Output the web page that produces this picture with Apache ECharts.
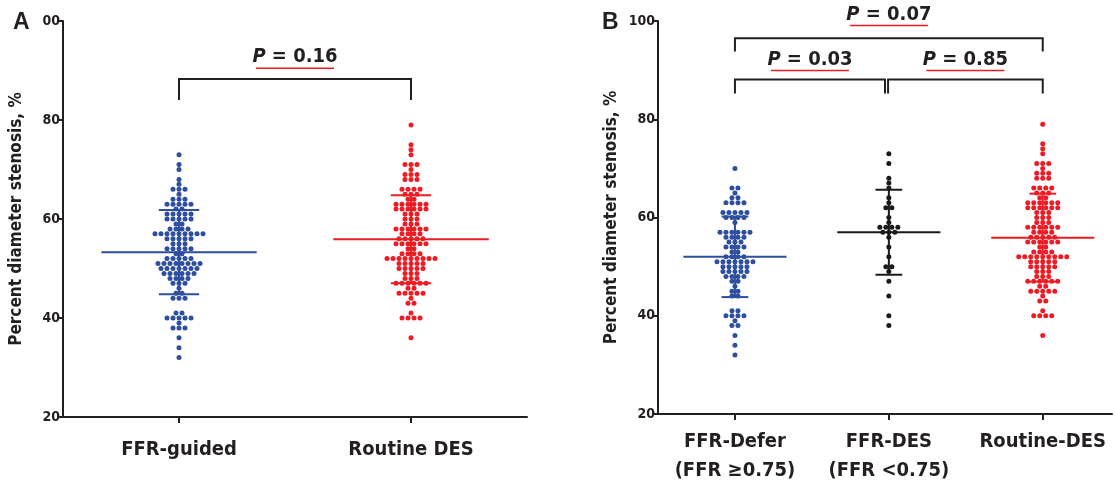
<!DOCTYPE html>
<html>
<head>
<meta charset="utf-8">
<title>Percent diameter stenosis</title>
<script src="https://cdn.jsdelivr.net/npm/echarts@6/dist/echarts.min.js"></script>
<style>
  html, body { margin: 0; padding: 0; background: #fff; }
  #chart { width: 1114px; height: 485px; }
</style>
</head>
<body>
<div id="chart"></div>
<script>
const FONT = "'Liberation Sans Narrow', 'DejaVu Sans Condensed', 'Arial Narrow', sans-serif";
const INK = '#231f20';
const BLUE = '#2e4f9f';
const RED = '#ed1c24';
const BLACK = '#1a1a1a';

// ---- data (one entry per patient dot) ----
const catsA = ['FFR-guided', 'Routine DES'];
const catsB = ['FFR-Defer\n(FFR \u22650.75)', 'FFR-DES\n(FFR <0.75)', 'Routine-DES'];

const ffrGuided = [
  73, 71, 70, 68, 67, 66, 66, 66, 65, 64, 64, 64, 63, 63, 63, 63, 63, 62, 62,
  61, 61, 61, 61, 61, 60, 60, 60, 60, 60, 59, 59, 58, 58, 58, 58,
  57, 57, 57, 57, 57, 57, 57, 57, 57, 56, 56, 56, 56, 56, 55, 55, 55,
  54, 54, 54, 54, 54, 53, 53, 52, 52, 52, 52, 52,
  51, 51, 51, 51, 51, 51, 51, 51, 50, 50, 50, 50, 50, 50, 50,
  49, 49, 49, 49, 49, 49, 48, 48, 48, 48, 47, 47, 47, 46, 45, 45, 44, 44, 44,
  41, 41, 40, 40, 40, 40, 40, 39, 38, 38, 38, 36, 34, 32
];

const routineDes = [
  79, 75, 74, 73, 71, 71, 71, 70, 69, 69, 69, 68, 68, 68, 66, 66, 66, 66, 65, 65, 65, 64, 64,
  63, 63, 63, 63, 63, 63, 62, 62, 62, 62, 62, 62, 61, 61, 61, 60, 60, 60, 59, 59, 59,
  58, 58, 58, 58, 58, 58, 57, 57, 57, 57, 56, 56, 56, 56, 56, 55, 55, 55, 55, 55, 55,
  54, 54, 53, 53, 53, 53, 52, 52, 52, 52, 52, 52, 52, 52, 52, 51, 51, 51, 51, 51,
  50, 50, 50, 50, 50, 49, 49, 49, 48, 48, 48, 47, 47, 47, 47, 47, 47, 46, 46,
  45, 45, 45, 45, 45, 44, 43, 43, 41, 40, 40, 40, 40, 36
];

const ffrDefer = [
  70, 66, 66, 65, 64, 64, 63, 63, 63, 63, 61, 61, 61, 61, 61, 60, 60, 60, 60, 59,
  57, 57, 57, 57, 57, 57, 56, 56, 56, 56, 55, 55, 55, 54, 54, 54, 54, 53, 53,
  52, 52, 52, 52, 51, 51, 51, 51, 51, 51, 51, 50, 50, 50, 50, 50, 49, 49, 49, 49, 49,
  48, 48, 48, 48, 47, 47, 46, 45, 45, 44, 44, 41, 41, 40, 40, 40, 40, 39, 38, 38, 36, 34, 32
];

const ffrDes = [
  73, 71, 68, 67, 66, 64, 63, 62, 62, 60, 59, 58, 58, 58, 58, 57, 57, 57, 56,
  54, 52, 50, 50, 49, 47, 44, 40, 38
];

// mean and SD bars as drawn
const meanA = [53.3, 55.9];
const sdA = [8.5, 8.9];
const meanB = [52.0, 57.0, 55.9];
const sdB = [8.2, 8.65, 8.95];

// comparisons and their P values
const compsA = [[1, 2]];
const pA = ['0.16'];
const compsB = [[1, 3], [1, 1.975], [1.995, 3]];
const pB = ['0.07', '0.03', '0.85'];

// ---- layout helpers ----
const DOT_STEP = 6; // px between dots in one row

function swarm(values, x) {
  const rows = {};
  values.forEach(v => { rows[v] = (rows[v] || 0) + 1; });
  const out = [];
  Object.keys(rows).forEach(k => {
    const n = rows[k];
    for (let i = 0; i < n; i++) {
      out.push({ value: [x, +k], symbolOffset: [(i - (n - 1) / 2) * DOT_STEP, 0] });
    }
  });
  return out;
}

function dots(values, x, color, idx) {
  return {
    type: 'scatter', xAxisIndex: idx, yAxisIndex: idx,
    symbol: 'circle', symbolSize: 5, silent: true, z: 2,
    itemStyle: { color: color, opacity: 1 },
    data: swarm(values, x)
  };
}

function summary(means, sds, colors, idx) {
  return {
    type: 'custom', xAxisIndex: idx, yAxisIndex: idx, silent: true, z: 3,
    data: means.map((m, i) => [i + 1, m, sds[i]]),
    renderItem: function (params, api) {
      const x = api.value(0), m = api.value(1), s = api.value(2);
      const c = colors[params.dataIndex];
      const seg = (a, b) => {
        const p = api.coord(a), q = api.coord(b);
        return { type: 'line', shape: { x1: p[0], y1: p[1], x2: q[0], y2: q[1] }, style: { stroke: c, lineWidth: 2 } };
      };
      return {
        type: 'group',
        children: [
          seg([x - 0.335, m], [x + 0.335, m]),
          seg([x, m - s], [x, m + s]),
          seg([x - 0.087, m + s], [x + 0.087, m + s]),
          seg([x - 0.087, m - s], [x + 0.087, m - s])
        ]
      };
    }
  };
}

// levels: [bracket value, drop px, text offset px, underline offset px]
function brackets(comps, labels, levels, idx) {
  return {
    type: 'custom', xAxisIndex: idx, yAxisIndex: idx, silent: true, clip: false, z: 4,
    data: comps.map((c, i) => [c[0], c[1], levels[i][0], i]),
    renderItem: function (params, api) {
      const i = api.value(3);
      const lv = levels[i];
      const a = api.coord([api.value(0), api.value(2)]);
      const b = api.coord([api.value(1), api.value(2)]);
      const cx = (a[0] + b[0]) / 2;
      return {
        type: 'group',
        children: [
          {
            type: 'polyline',
            shape: { points: [[a[0], a[1] + lv[1]], [a[0], a[1]], [b[0], b[1]], [b[0], b[1] + lv[1]]] },
            style: { stroke: INK, lineWidth: 2, fill: null }
          },
          {
            type: 'line',
            shape: { x1: cx - 39, y1: a[1] - lv[3], x2: cx + 39, y2: a[1] - lv[3] },
            style: { stroke: RED, lineWidth: 1.5 }
          },
          {
            type: 'text',
            style: {
              x: cx, y: a[1] - lv[2], align: 'center', verticalAlign: 'middle',
              text: '{i|P}{n| = ' + labels[i] + '}',
              rich: {
                i: { fontFamily: FONT, fontWeight: 'bold', fontStyle: 'italic', fontSize: 20, fill: INK },
                n: { fontFamily: FONT, fontWeight: 'bold', fontSize: 20, fill: INK }
              }
            }
          }
        ]
      };
    }
  };
}

const axisLineStyle = { color: INK, width: 2 };

function yAxis(idx, gap, formatter) {
  return {
    gridIndex: idx, type: 'value', min: 20, max: 100, interval: 20,
    name: 'Percent diameter stenosis, %', nameLocation: 'middle', nameGap: gap,
    nameTextStyle: { fontFamily: FONT, fontWeight: 'bold', fontSize: 17, color: INK },
    axisLine: { show: true, lineStyle: axisLineStyle },
    axisTick: { show: true, length: 6, lineStyle: axisLineStyle },
    axisLabel: { margin: 3, fontFamily: FONT, fontWeight: 'bold', fontSize: 14, color: INK, formatter: formatter },
    splitLine: { show: false }
  };
}

function xAxis(idx, max, cats, margin, lh) {
  const ticks = cats.map((c, i) => i + 1);
  return {
    gridIndex: idx, type: 'value', min: 0.5, max: max,
    axisLine: { show: true, onZero: false, lineStyle: axisLineStyle },
    axisTick: { show: true, length: 6, customValues: ticks, lineStyle: axisLineStyle },
    axisLabel: {
      customValues: ticks, margin: margin, lineHeight: lh,
      fontFamily: FONT, fontWeight: 'bold', fontSize: 20, color: INK,
      formatter: v => cats[Math.round(v) - 1]
    },
    splitLine: { show: false }
  };
}

const chart = echarts.init(document.getElementById('chart'), null, { renderer: 'canvas' });

chart.setOption({
  backgroundColor: '#fff',
  animation: false,
  grid: [
    { left: 63, top: 21, width: 464, height: 396 },
    { left: 658, top: 21, width: 454, height: 393 }
  ],
  xAxis: [
    xAxis(0, 2.5, catsA, 23, 20),
    xAxis(1, 3.45, catsB, 13, 29)
  ],
  yAxis: [
    yAxis(0, 38, v => (v === 100 ? '00' : v)),
    yAxis(1, 38, v => v)
  ],
  graphic: [
    { type: 'text', left: 13, top: 11, style: { text: 'A', font: "bold 23px 'Liberation Sans', Arial, sans-serif", fill: INK } },
    { type: 'text', left: 602, top: 11, style: { text: 'B', font: "bold 23px 'Liberation Sans', Arial, sans-serif", fill: INK } }
  ],
  series: [
    dots(ffrGuided, 1, BLUE, 0),
    dots(routineDes, 2, RED, 0),
    summary(meanA, sdA, [BLUE, RED], 0),
    brackets(compsA, pA, [[88.3, 21, 22.5, 10.7]], 0),

    dots(ffrDefer, 1, BLUE, 1),
    dots(ffrDes, 2, BLACK, 1),
    dots(routineDes, 3, RED, 1),
    summary(meanB, sdB, [BLUE, BLACK, RED], 1),
    brackets(compsB, pB, [[96.5, 13.4, 23.6, 12.6], [88.1, 14, 19.8, 9], [88.1, 14, 19.8, 9]], 1)
  ]
});

window.addEventListener('resize', () => chart.resize());
</script>
</body>
</html>
